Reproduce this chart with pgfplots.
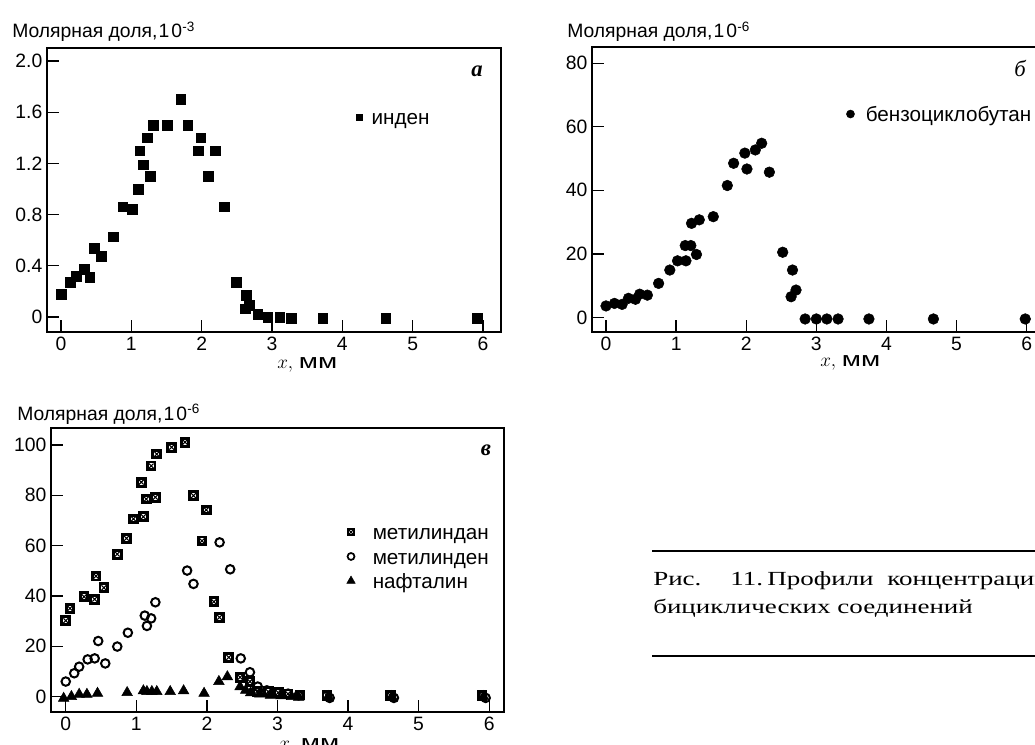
\documentclass[border=0pt]{standalone}
\usepackage{fontspec}
\setmainfont{Liberation Sans}
\newfontfamily\serifit{Liberation Serif}
\newfontfamily\widesans[FakeStretch=1.35]{Liberation Sans}
\newfontfamily\capfont[FakeStretch=1.35]{Liberation Serif}
\usepackage{pgfplots}
\pgfplotsset{compat=1.18}

\pgfdeclareplotmark{boxx}{%
  \pgfpathrectangle{\pgfqpoint{-\pgfplotmarksize}{-\pgfplotmarksize}}{\pgfqpoint{2\pgfplotmarksize}{2\pgfplotmarksize}}%
  \pgfusepath{fill,stroke}%
  \begin{pgfscope}%
  \pgfsetlinewidth{0.8pt}%
  \pgfpathmoveto{\pgfqpoint{-0.6\pgfplotmarksize}{-0.6\pgfplotmarksize}}%
  \pgfpathlineto{\pgfqpoint{0.6\pgfplotmarksize}{0.6\pgfplotmarksize}}%
  \pgfpathmoveto{\pgfqpoint{-0.6\pgfplotmarksize}{0.6\pgfplotmarksize}}%
  \pgfpathlineto{\pgfqpoint{0.6\pgfplotmarksize}{-0.6\pgfplotmarksize}}%
  \pgfusepath{stroke}%
  \end{pgfscope}%
}

\newcommand\rowstrut{\rule[-4.6pt]{0pt}{17.8pt}}

\pgfplotsset{
  panel/.style={
    scale only axis,
    anchor=south west,
    axis line style={line width=1.4pt},
    tick style={line width=1pt, black},
    tick align=inside,
    tick pos=left,
    major tick length=9pt,
    xtick={0,1,2,3,4,5,6},
    tick label style={font=\fontsize{14.5}{17}\selectfont},
    /pgf/number format/assume math mode=true,
    clip=false,
    legend cell align=left,
    legend style={draw=none, fill=none, inner sep=0pt, outer sep=0pt,
      font=\fontsize{15.5}{17.8}\selectfont,
      nodes={inner sep=0pt}},
    legend image code/.code={\draw[##1] plot coordinates {(0pt,0pt)};},
  }
}

\begin{document}
\begin{tikzpicture}
\useasboundingbox (0pt,0pt) rectangle (776.25pt,-558.75pt);
\clip (0pt,0pt) rectangle (776.25pt,-558.75pt);

% ---------- panel a ----------
\begin{axis}[panel, at={(35.25pt,-249pt)}, width=340.5pt, height=213pt,
  xmin=-0.199, xmax=6.256, ymin=-0.117, ymax=2.102,
  ytick={0,0.4,0.8,1.2,1.6,2.0}, yticklabels={0,0.4,0.8,1.2,1.6,2.0},
  legend style={at={(axis cs:4.20,1.5625)}, anchor=west,
    /tikz/every odd column/.append style={column sep=7pt}}]
\addplot[only marks, mark=square*, mark size=3.6pt, black,
  legend image post style={mark size=2.2pt}] table {
0.00 0.18
0.13 0.27
0.22 0.32
0.33 0.375
0.41 0.31
0.47 0.535
0.57 0.477
0.74 0.626
0.88 0.86
1.01 0.84
1.10 1.00
1.12 1.30
1.17 1.19
1.23 1.40
1.27 1.10
1.31 1.50
1.51 1.50
1.70 1.70
1.80 1.50
1.95 1.30
1.99 1.40
2.09 1.10
2.19 1.30
2.32 0.86
2.49 0.27
2.63 0.17
2.62 0.065
2.68 0.09
2.80 0.02
2.94 0.00
3.11 0.00
3.27 -0.01
3.72 -0.01
4.62 -0.01
5.92 -0.01
};
\addlegendentry{инден\rowstrut}
\end{axis}

% ---------- panel b ----------
\begin{axis}[panel, at={(444pt,-249pt)}, width=339.45pt, height=213.75pt,
  xmin=-0.2, xmax=6.256, ymin=-4.6, ymax=85.1,
  ytick={0,20,40,60,80},
  legend style={at={(axis cs:3.43,64.0)}, anchor=west,
    /tikz/every odd column/.append style={column sep=8.5pt}}]
\addplot[only marks, mark=*, mark size=4pt, black,
  legend image post style={mark size=3pt}] table {
0.00 3.6
0.12 4.4
0.23 4.1
0.32 6.0
0.42 5.7
0.48 7.3
0.59 7.0
0.75 10.7
0.91 14.9
1.02 17.8
1.14 17.8
1.13 22.6
1.21 22.6
1.29 19.8
1.22 29.6
1.33 30.7
1.53 31.7
1.73 41.5
1.82 48.5
1.98 51.7
2.01 46.7
2.13 52.7
2.22 54.8
2.33 45.7
2.52 20.5
2.66 14.9
2.64 6.5
2.71 8.6
2.84 -0.5
3.00 -0.5
3.15 -0.5
3.31 -0.5
3.75 -0.5
4.67 -0.5
5.98 -0.5
};
\addlegendentry{бензоциклобутан\rowstrut}
\end{axis}

% ---------- panel c ----------
\begin{axis}[panel, at={(38.25pt,-534pt)}, width=339.75pt, height=213pt,
  xmin=-0.209, xmax=6.21, ymin=-6.1, ymax=106.75,
  ytick={0,20,40,60,80,100},
  legend style={at={(axis cs:3.98,55.7)}, anchor=west, row sep=3.6pt,
    /tikz/every odd column/.append style={column sep=13pt}}]
\addplot[only marks, mark=boxx, mark size=2.9pt,
  mark options={line width=2.2pt, fill=white, draw=black},
  legend image post style={mark size=2.4pt, mark options={line width=1.8pt, fill=white, draw=black}}] table {
0.00 30.2
0.06 35.1
0.26 39.7
0.41 38.7
0.43 47.9
0.54 43.3
0.73 56.6
0.86 62.9
0.96 70.6
1.10 71.5
1.07 85.2
1.14 78.5
1.21 91.7
1.27 79.2
1.29 96.4
1.50 99.1
1.69 101.1
1.81 79.9
1.99 74.2
1.93 61.9
2.10 37.7
2.18 31.5
2.31 15.6
2.47 7.7
2.61 6.0
2.71 2.0
2.87 2.0
3.01 1.6
3.15 1.1
3.32 0.7
3.70 0.5
4.60 0.5
5.90 0.5
};
\addlegendentry{метилиндан\rowstrut}
\addplot[only marks, mark=o, mark size=3.2pt, mark options={line width=1.5pt, draw=black},
  legend image post style={mark size=2.6pt, mark options={line width=1.3pt, draw=black}}] table {
0.00 6.0
0.12 9.3
0.19 11.9
0.31 14.8
0.41 15.2
0.46 22.1
0.56 13.2
0.73 19.9
0.88 25.4
1.12 32.2
1.15 28.1
1.21 31.1
1.27 37.5
1.72 50.1
1.81 44.8
2.18 61.3
2.33 50.6
2.48 15.2
2.61 9.7
2.72 4.0
2.85 2.5
3.00 1.5
3.15 1.2
3.30 0.5
3.74 -0.5
4.65 -0.5
5.95 -0.5
};
\addlegendentry{метилинден\rowstrut}
\addplot[only marks, mark=triangle*, mark size=4.6pt, black,
  legend image post style={mark size=3.6pt}] table {
-0.03 -0.7
0.08 0.0
0.19 0.9
0.30 0.9
0.45 1.3
0.87 1.6
1.10 2.3
1.15 2.0
1.22 2.0
1.29 2.0
1.48 2.0
1.67 2.3
1.96 1.3
2.17 6.0
2.29 7.9
2.47 3.9
2.55 2.5
2.62 1.5
2.75 1.0
2.90 0.5
3.05 0.3
3.20 0.0
3.30 -0.3
3.72 0.0
4.62 0.0
5.92 0.0
};
\addlegendentry{нафталин\rowstrut}
\end{axis}

% ---------- annotations (pixel coordinates) ----------
\begin{scope}[x=0.75pt, y=-0.75pt]
\node[anchor=base west, inner sep=0pt, font=\fontsize{14.5}{17}\selectfont] at (12,38) {Молярная доля,\kern1pt1\kern1.5pt0\textsuperscript{-3}};
\node[anchor=base west, inner sep=0pt, font=\fontsize{14.5}{17}\selectfont] at (567,38) {Молярная доля,\kern1pt1\kern1.5pt0\textsuperscript{-6}};
\node[anchor=base west, inner sep=0pt, font=\fontsize{14.5}{17}\selectfont] at (17,420) {Молярная доля,\kern1pt1\kern1.5pt0\textsuperscript{-6}};

\node[anchor=base west, inner sep=0pt, font=\fontsize{15.5}{18}\selectfont] at (277,368) {$x,$\ \widesans мм};
\node[anchor=base west, inner sep=0pt, font=\fontsize{15.5}{18}\selectfont] at (820,366) {$x,$\ \widesans мм};
\node[anchor=base west, inner sep=0pt, font=\fontsize{15.5}{18}\selectfont] at (279,749) {$x,$\ \widesans мм};

\node[anchor=base, inner sep=0pt, font=\fontsize{17}{20}\selectfont] at (477,77) {\serifit\bfseries\itshape a};
\node[anchor=base, inner sep=0pt, font=\fontsize{17}{20}\selectfont] at (1020,77) {\serifit\itshape б};
\node[anchor=base, inner sep=0pt, font=\fontsize{17}{20}\selectfont] at (486,455) {\serifit\bfseries\itshape в};

\draw[line width=1.6pt] (652,551) -- (1040,551);
\draw[line width=1.6pt] (652,656) -- (1040,656);
\node[anchor=base west, inner sep=0pt, font=\fontsize{15}{18}\capfont] at (653,585) {Рис.};
\node[anchor=base west, inner sep=0pt, font=\fontsize{15}{18}\capfont] at (730,585) {11.};
\node[anchor=base west, inner sep=0pt, font=\fontsize{15}{18}\capfont] at (767,585) {Профили};
\node[anchor=base west, inner sep=0pt, font=\fontsize{15}{18}\capfont] at (887,585) {концентраций};
\node[anchor=base west, inner sep=0pt, font=\fontsize{15}{18}\capfont] at (653,613) {бициклических соединений};
\end{scope}
\end{tikzpicture}
\end{document}
